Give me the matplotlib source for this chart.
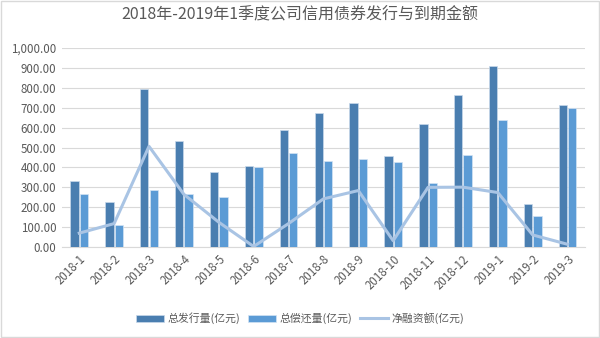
import matplotlib.pyplot as plt
import numpy as np
from matplotlib.ticker import FuncFormatter

plt.rcParams['font.family'] = ['Noto Sans CJK SC', 'DejaVu Sans']

# 数据
months = ['2018-1', '2018-2', '2018-3', '2018-4', '2018-5', '2018-6', '2018-7', '2018-8',
          '2018-9', '2018-10', '2018-11', '2018-12', '2019-1', '2019-2', '2019-3']
issue = [333, 228, 792, 533, 375, 407, 590, 672, 724, 459, 616, 765, 910, 218, 714]
repay = [265, 112, 288, 268, 250, 404, 472, 430, 440, 427, 320, 464, 636, 157, 700]
net = [70, 118, 506, 265, 125, 3, 118, 242, 284, 32, 300, 301, 274, 61, 14]

fig = plt.figure(figsize=(6, 3.38), dpi=100)
ax = fig.add_axes([0.103, 0.269, 0.872, 0.589])

x = np.arange(len(months))
w = 0.24
b1 = ax.bar(x - 0.135, issue, w, color='#4a7eb0', edgecolor='#c9d9ea', linewidth=0.5,
            label='总发行量(亿元)', zorder=3)
b2 = ax.bar(x + 0.135, repay, w, color='#5b9bd5', edgecolor='#d4e4f4', linewidth=0.5,
            label='总偿还量(亿元)', zorder=3)
l1, = ax.plot(x, net, color='#a9c4e4', linewidth=2.2, label='净融资额(亿元)', zorder=4)

ax.set_ylim(0, 1000)
ax.set_xlim(-0.5, len(months) - 0.5)
ax.set_yticks(np.arange(0, 1001, 100))
ax.yaxis.set_major_formatter(FuncFormatter(lambda v, p: f'{v:,.2f}'))
ax.set_xticks(x)
ax.set_xticklabels(months, rotation=45, ha='right', rotation_mode='anchor')
ax.tick_params(axis='both', length=0, labelsize=8.3, colors='#595959', pad=4)
ax.grid(axis='y', color='#d9d9d9', linewidth=0.8, zorder=0)
for s in ['top', 'right', 'left']:
    ax.spines[s].set_visible(False)
ax.spines['bottom'].set_color('#d9d9d9')

fig.suptitle('2018年-2019年1季度公司信用债券发行与到期金额', y=0.98,
             fontsize=11.5, color='#595959')
fig.legend(handles=[b1, b2, l1], loc='lower center', ncol=3, frameon=False, fontsize=7.8,
           bbox_to_anchor=(0.5, 0.012), handlelength=2.6, handleheight=0.6,
           handletextpad=0.3, columnspacing=0.7, labelcolor='#595959')

fig.patches.append(plt.Rectangle((0.002, 0.003), 0.996, 0.994, transform=fig.transFigure,
                                 fill=False, edgecolor='#d9d9d9', linewidth=1))

fig.savefig('out.png', dpi=100)
